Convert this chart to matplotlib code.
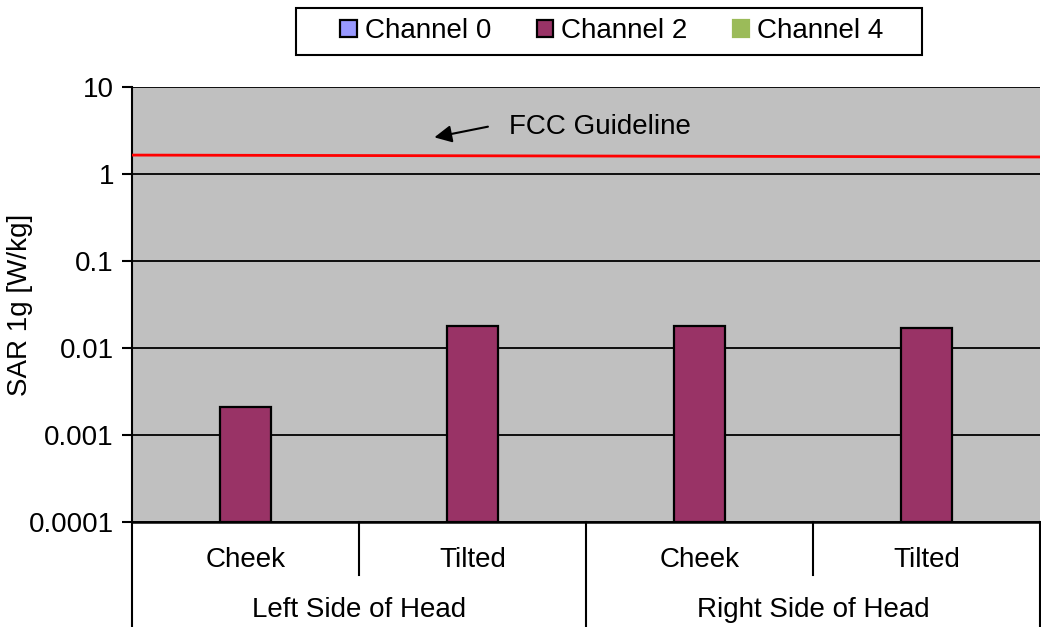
import numpy as np
import matplotlib
matplotlib.use('Agg')
import matplotlib.pyplot as plt
from matplotlib.patches import Rectangle
from matplotlib.ticker import FixedLocator, FixedFormatter, NullLocator

plt.rcParams['font.family'] = ['Liberation Sans', 'DejaVu Sans']

# data
positions = ['Cheek', 'Tilted', 'Cheek', 'Tilted']
sides = ['Left Side of Head', 'Right Side of Head']
series_names = ['Channel 0', 'Channel 2', 'Channel 4']
ch0 = [np.nan, np.nan, np.nan, np.nan]
ch2 = [0.002, 0.018, 0.018, 0.017]
ch4 = [np.nan, np.nan, np.nan, np.nan]
colors = ['#9999FF', '#993366', '#9BBB59']
edges = ['black', 'black', '#9BBB59']
fcc_limit = [1.65, 1.57]  # red guideline, read at left and right ends
yticks = [0.0001, 0.001, 0.01, 0.1, 1, 10]
ytick_labels = ['0.0001', '0.001', '0.01', '0.1', '1', '10']

FS = 20

fig = plt.figure(figsize=(10.41, 6.27), dpi=100)
ax = fig.add_axes([132/1041, 105/627, 908/1041, 435/627])
ax.set_facecolor('#C0C0C0')

x = np.arange(len(positions))
w = 0.225
handles = []
for i, (vals, name) in enumerate(zip([ch0, ch2, ch4], series_names)):
    b = ax.bar(x + (i - 1) * w, vals, width=w, bottom=1e-4, color=colors[i],
               edgecolor=edges[i], linewidth=1.6, label=name, zorder=3)
    handles.append(b)

ax.set_yscale('log')
ax.set_ylim(1e-4, 10)
ax.set_xlim(-0.5, 3.5)
ax.yaxis.set_major_locator(FixedLocator(yticks))
ax.yaxis.set_major_formatter(FixedFormatter(ytick_labels))
ax.yaxis.set_minor_locator(NullLocator())
ax.tick_params(axis='y', direction='out', length=7, width=1.5, labelsize=FS, pad=6)
ax.set_xticks([])
ax.grid(axis='y', color='black', linewidth=1.3, zorder=1)
ax.set_axisbelow(True)

for s in ['top', 'right']:
    ax.spines[s].set_visible(False)
ax.spines['left'].set_linewidth(1.5)
ax.spines['bottom'].set_linewidth(1.8)

# FCC guideline
ax.plot([-0.5, 3.5], fcc_limit, color='red', linewidth=2, zorder=4)
ax.annotate('', xy=(0.82, 2.6), xytext=(1.08, 3.55),
            arrowprops=dict(arrowstyle='-|>', color='black', lw=1.5,
                            mutation_scale=26))
ax.text(1.16, 3.5, 'FCC Guideline', fontsize=FS, va='center', ha='left')

# two-level category axis
trans = ax.transAxes
for i, lab in enumerate(positions):
    ax.text((i + 0.5) / 4, -0.087, lab, transform=trans, ha='center',
            va='center', fontsize=FS)
for j, lab in enumerate(sides):
    ax.text((j + 0.5) / 2, -0.202, lab, transform=trans, ha='center',
            va='center', fontsize=FS)
for xs, ylow in [(0, -0.25), (0.25, -0.122), (0.5, -0.25), (0.75, -0.122),
                 (1.0, -0.25)]:
    ax.plot([xs, xs], [0, ylow], transform=trans, color='black',
            linewidth=1.5, clip_on=False)

ax.set_ylabel('SAR 1g [W/kg]', fontsize=FS)
ax.yaxis.set_label_coords(-0.109, 0.5)

leg = fig.legend(handles=handles, loc='center', bbox_to_anchor=(612/1041, 1 - 31/627),
                 ncol=3, fontsize=FS, frameon=False,
                 handlelength=0.58, handleheight=0.58,
                 handletextpad=0.29, columnspacing=1.65, borderpad=0.3)
fig.patches.append(Rectangle((296/1041, 1 - 55/627), 626/1041, 47/627,
                             transform=fig.transFigure, fill=False,
                             edgecolor='black', linewidth=1.5))

fig.savefig('out.png', dpi=100)
